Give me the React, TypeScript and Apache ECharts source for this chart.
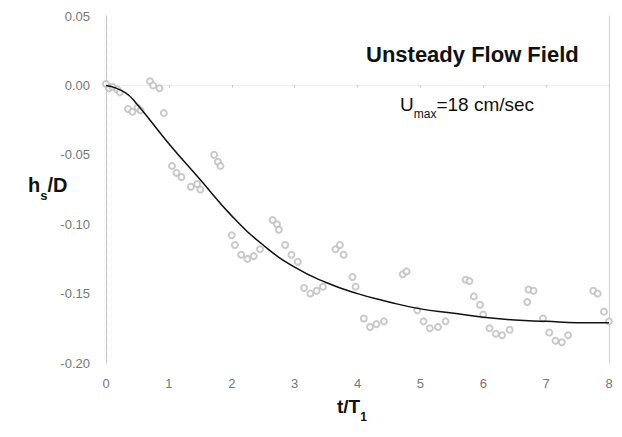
import React, { useEffect, useRef } from "react";
import * as echarts from "echarts";

// Measured scatter points (t/T1, hs/D)
const pointT = [
  0.0, 0.05, 0.1, 0.18, 0.22,
  0.35, 0.42, 0.5, 0.55,
  0.7, 0.75, 0.85, 0.92,
  1.05, 1.12, 1.2,
  1.35, 1.45, 1.5,
  1.72, 1.78, 1.82,
  2.0, 2.05, 2.15, 2.25, 2.35, 2.45,
  2.65, 2.72, 2.75,
  2.85, 2.95, 3.05,
  3.15, 3.25, 3.35, 3.45,
  3.65, 3.72, 3.78,
  3.92, 3.97,
  4.1, 4.2, 4.3, 4.42,
  4.72, 4.78,
  4.95, 5.05, 5.15, 5.28, 5.4,
  5.72, 5.78,
  5.85, 5.95, 6.0,
  6.1, 6.2, 6.3, 6.42,
  6.7, 6.72, 6.8,
  6.95, 7.05, 7.15, 7.25, 7.35,
  7.75, 7.82,
  7.92, 8.0,
];
const pointH = [
  0.001, -0.002, -0.001, -0.003, -0.005,
  -0.017, -0.019, -0.016, -0.018,
  0.003, 0.0, -0.002, -0.02,
  -0.058, -0.063, -0.066,
  -0.073, -0.071, -0.075,
  -0.05, -0.055, -0.058,
  -0.108, -0.115, -0.122, -0.125, -0.123, -0.118,
  -0.097, -0.1, -0.104,
  -0.115, -0.122, -0.127,
  -0.146, -0.15, -0.148, -0.145,
  -0.118, -0.115, -0.122,
  -0.138, -0.145,
  -0.168, -0.174, -0.172, -0.17,
  -0.136, -0.134,
  -0.162, -0.17, -0.175, -0.174, -0.17,
  -0.14, -0.141,
  -0.152, -0.158, -0.165,
  -0.175, -0.179, -0.18, -0.176,
  -0.156, -0.147, -0.148,
  -0.168, -0.178, -0.184, -0.185, -0.18,
  -0.148, -0.15,
  -0.163, -0.17,
];

// Fitted curve
const curveT = [0, 0.3, 0.5, 1, 1.5, 2, 2.5, 3, 3.5, 4, 4.5, 5, 5.5, 6, 6.5, 7, 7.5, 8];
const curveH = [0, -0.005, -0.014, -0.042, -0.068, -0.094, -0.115, -0.131, -0.142, -0.15, -0.156, -0.161, -0.164, -0.167, -0.169, -0.17, -0.171, -0.171];

const xMin = 0;
const xMax = 8;
const yMin = -0.2;
const yMax = 0.05;
const yStep = 0.05;

const titleText = "Unsteady Flow Field";
const FONT = "'Liberation Sans', Arial, Helvetica, sans-serif";

export default function App() {
  const ref = useRef<HTMLDivElement>(null);
  useEffect(() => {
    if (!ref.current) return;
    const chart = echarts.init(ref.current, null, { renderer: "svg" });
    const scatterData = pointT.map((t, i) => [t, pointH[i]]);
    const curveData = curveT.map((t, i) => [t, curveH[i]]);
    chart.setOption({
      animation: false,
      backgroundColor: "#ffffff",
      textStyle: { fontFamily: FONT },
      grid: { left: 106, right: 13, top: 16, bottom: 74 },
      xAxis: {
        type: "value",
        min: xMin,
        max: xMax,
        interval: 1,
        axisLine: { show: true, lineStyle: { color: "#eeeeee", width: 1 } },
        axisTick: { show: true, length: 2, lineStyle: { color: "#bbbbbb" } },
        axisLabel: { color: "#777777", fontSize: 13, margin: 14, fontFamily: FONT },
        splitLine: { show: false },
      },
      yAxis: [
        {
          type: "value",
          min: yMin,
          max: yMax,
          interval: yStep,
          axisLine: { show: true, lineStyle: { color: "#bbbbbb", type: "dotted", width: 1 } },
          axisTick: { show: false },
          axisLabel: {
            color: "#777777",
            fontSize: 13,
            margin: 16,
            fontFamily: FONT,
            formatter: (v: number) => v.toFixed(2),
          },
          splitLine: { show: false },
        },
        {
          type: "value",
          position: "right",
          min: yMin,
          max: yMax,
          interval: yStep,
          axisLine: { show: true, lineStyle: { color: "#cccccc", type: "dotted", width: 1 } },
          axisTick: { show: false },
          axisLabel: { show: false },
          splitLine: { show: false },
        },
      ],
      series: [
        {
          type: "scatter",
          data: scatterData,
          symbol: "emptyCircle",
          symbolSize: 6,
          itemStyle: { color: "#bdbdbd", borderColor: "#bdbdbd", borderWidth: 1 },
          z: 2,
        },
        {
          type: "line",
          data: curveData,
          smooth: true,
          showSymbol: false,
          symbol: "none",
          lineStyle: { color: "#111111", width: 1.5 },
          z: 3,
        },
      ],
      graphic: [
        {
          type: "text",
          left: 366,
          top: 43,
          style: {
            text: titleText,
            font: `bold 22px ${FONT}`,
            fill: "#111111",
          },
        },
        {
          type: "text",
          left: 400,
          top: 95,
          style: {
            text: "{u|U}{s|max}{u|=18 cm/sec}",
            fill: "#111111",
            rich: {
              u: { fontSize: 19, fontFamily: FONT, lineHeight: 22, verticalAlign: "top", fill: "#111111" },
              s: { fontSize: 12, fontFamily: FONT, lineHeight: 12, verticalAlign: "top", padding: [13, 0, 0, 0], fill: "#111111" },
            },
          },
        },
        {
          type: "text",
          left: 28,
          top: 175,
          style: {
            text: "{u|h}{s|s}{u|/D}",
            fill: "#111111",
            rich: {
              u: { fontSize: 20, fontWeight: "bold", fontFamily: FONT, lineHeight: 23, verticalAlign: "top", fill: "#111111" },
              s: { fontSize: 13, fontWeight: "bold", fontFamily: FONT, lineHeight: 13, verticalAlign: "top", padding: [14, 0, 0, 0], fill: "#111111" },
            },
          },
        },
        {
          type: "text",
          left: 337,
          top: 397,
          style: {
            text: "{u|t/T}{s|1}",
            fill: "#111111",
            rich: {
              u: { fontSize: 19, fontWeight: "bold", fontFamily: FONT, lineHeight: 22, verticalAlign: "top", fill: "#111111" },
              s: { fontSize: 12, fontWeight: "bold", fontFamily: FONT, lineHeight: 12, verticalAlign: "top", padding: [14, 0, 0, 0], fill: "#111111" },
            },
          },
        },
      ],
    });
    return () => chart.dispose();
  }, []);
  return <div ref={ref} style={{ position: "fixed", left: 0, top: 0, width: 622, height: 437 }} />;
}
